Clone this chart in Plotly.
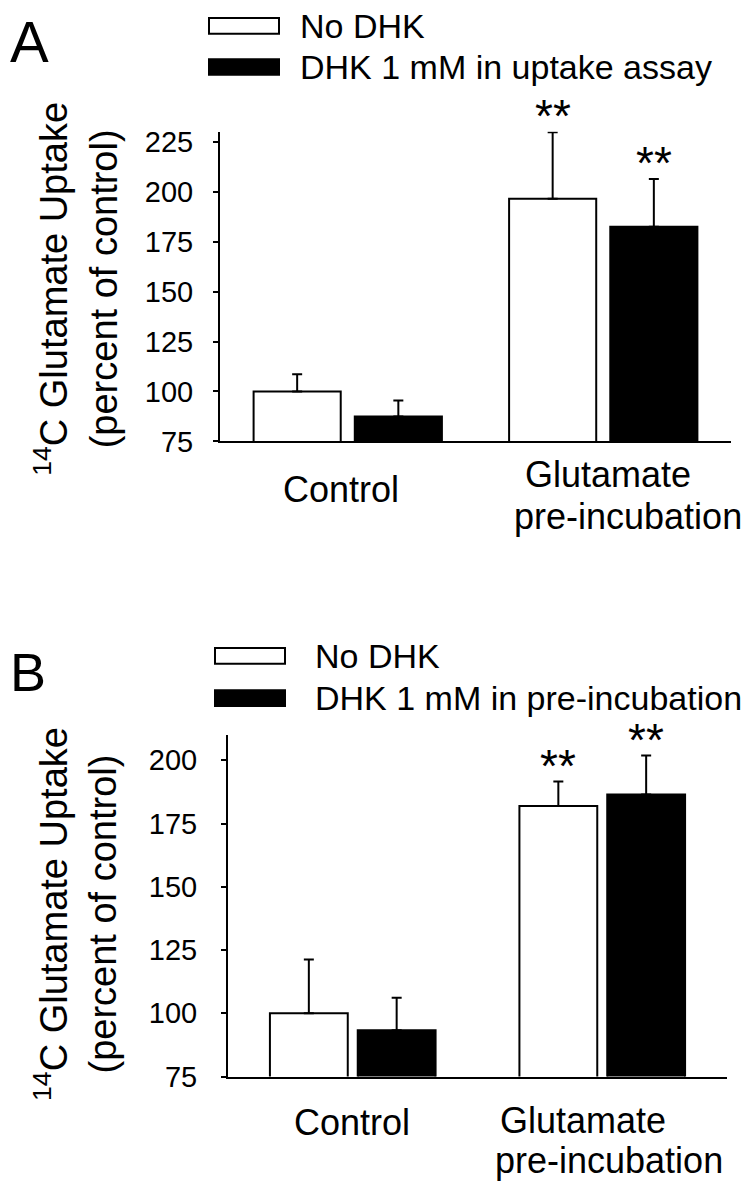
import plotly.graph_objects as go

# --- data ---
categories = ["Control", "Glutamate pre-incubation"]
category_lines = [["Control"], ["Glutamate", "pre-incubation"]]

a_series = ["No DHK", "DHK 1 mM in uptake assay"]
a_no_dhk = [100, 196.5]
a_no_dhk_err = [8.6, 33.3]
a_dhk = [87.5, 182.5]
a_dhk_err = [8.0, 23.8]
a_stars_no_dhk = ["", "**"]
a_stars_dhk = ["", "**"]
a_ticks = [75, 100, 125, 150, 175, 200, 225]

b_series = ["No DHK", "DHK 1 mM in pre-incubation"]
b_no_dhk = [100, 182]
b_no_dhk_err = [21.3, 9.6]
b_dhk = [93.3, 186.5]
b_dhk_err = [12.9, 15.4]
b_stars_no_dhk = ["", "**"]
b_stars_dhk = ["", "**"]
b_ticks = [75, 100, 125, 150, 175, 200]

# the page body keeps its default 8px margin, so the figure is shrunk by it
PAGE_W, PAGE_H, BODY = 756, 1199, 8
W, H = PAGE_W - 2 * BODY, PAGE_H - 2 * BODY
FONT = "Liberation Sans, Arial, sans-serif"


def px(x):
    return (x - BODY) / W


def py(y):
    return 1 - (y - BODY) / H


fig = go.Figure()

panels = [
    dict(letter="A", xa="x", ya="y", series=a_series,
         vals=[a_no_dhk, a_dhk], errs=[a_no_dhk_err, a_dhk_err],
         stars=[a_stars_no_dhk, a_stars_dhk], ticks=a_ticks,
         yrange=[75, 230], xdom=[px(220), px(731)], ydom=[py(443.5), py(128)],
         w=0.341, gap=0.055, standoff=14,
         letter_y=36, letter_size=58, legend_y=[20, 62], box_x=[209, 279],
         text_x=298, title_y=288,
         lab_shift=[[(-7, -48)], [(5, -33), (25, -75)]]),
    dict(letter="B", xa="x2", ya="y2", series=b_series,
         vals=[b_no_dhk, b_dhk], errs=[b_no_dhk_err, b_dhk_err],
         stars=[b_stars_no_dhk, b_stars_dhk], ticks=b_ticks,
         yrange=[75, 210], xdom=[px(228), px(727)], ydom=[py(1090.7), py(742.7)],
         w=0.312, gap=0.04, standoff=18,
         letter_y=678, letter_size=54, legend_y=[662, 705], box_x=[215, 285],
         text_x=313, title_y=925,
         lab_shift=[[(-1, -46)], [(-19, -44), (7, -84)]]),
]

fills = ["white", "black"]
xs = list(range(len(categories)))

for p in panels:
    w, gap = p["w"], p["gap"]
    offsets = [-(gap / 2 + w), gap / 2]
    for k in range(2):
        fig.add_trace(go.Bar(
            x=xs, y=p["vals"][k], name=p["series"][k],
            width=w, offset=offsets[k],
            marker=dict(color=fills[k], line=dict(color="black", width=2)),
            error_y=dict(type="data", symmetric=False, array=p["errs"][k],
                         arrayminus=[0] * len(xs), color="black",
                         thickness=2, width=5),
            xaxis=p["xa"], yaxis=p["ya"], showlegend=False,
        ))
        # significance stars above the error bars
        for i in xs:
            if p["stars"][k][i]:
                fig.add_annotation(
                    x=i + offsets[k] + w / 2, y=p["vals"][k][i] + p["errs"][k][i],
                    xref=p["xa"], yref=p["ya"], text=p["stars"][k][i],
                    showarrow=False, yanchor="bottom", yshift=-12,
                    font=dict(size=46, color="black", family=FONT))

    # category labels under the axis
    for i, lines in enumerate(category_lines):
        for line, (dx, dy) in zip(lines, p["lab_shift"][i]):
            fig.add_annotation(
                x=i, y=0, xref=p["xa"], yref=p["ya"] + " domain", text=line,
                showarrow=False, yanchor="middle", xshift=dx, yshift=dy,
                font=dict(size=36, color="black", family=FONT))

    # y-axis title
    fig.add_annotation(
        x=px(76), y=py(p["title_y"]), xref="paper", yref="paper",
        text="<sup>14</sup>C Glutamate Uptake<br>(percent of control)",
        textangle=-90, showarrow=False, xanchor="center", yanchor="middle",
        font=dict(size=38, color="black", family=FONT))

    # panel letter
    fig.add_annotation(
        x=px(8), y=py(p["letter_y"]), xref="paper", yref="paper",
        text=p["letter"], showarrow=False, xanchor="left", yanchor="middle",
        font=dict(size=p["letter_size"], color="black", family=FONT))

    # legend swatches and labels
    for k in range(2):
        yc = p["legend_y"][k]
        fig.add_shape(type="rect", xref="paper", yref="paper",
                      x0=px(p["box_x"][0]), x1=px(p["box_x"][1]),
                      y0=py(yc + 8), y1=py(yc - 8),
                      line=dict(color="black", width=2), fillcolor=fills[k])
        fig.add_annotation(
            x=px(p["text_x"]), y=py(yc), xref="paper", yref="paper",
            text=p["series"][k], showarrow=False, xanchor="left", yanchor="middle",
            font=dict(size=34, color="black", family=FONT))

axis_common = dict(showgrid=False, zeroline=False, showline=True,
                   linecolor="black", linewidth=2)

for p in panels:
    xkey = "xaxis" if p["xa"] == "x" else "xaxis2"
    ykey = "yaxis" if p["ya"] == "y" else "yaxis2"
    fig.update_layout({
        xkey: dict(domain=p["xdom"], range=[-0.5, 1.5], anchor=p["ya"],
                   showticklabels=False, ticks="", fixedrange=True, **axis_common),
        ykey: dict(domain=p["ydom"], range=p["yrange"], anchor=p["xa"],
                   tickmode="array", tickvals=p["ticks"], ticks="outside",
                   ticklen=5, tickwidth=2, tickcolor="black",
                   ticklabelstandoff=p["standoff"],
                   tickfont=dict(size=29, color="black", family=FONT),
                   fixedrange=True, **axis_common),
    })

fig.update_layout(
    width=W, height=H, autosize=False,
    margin=dict(l=0, r=0, t=0, b=0),
    paper_bgcolor="white", plot_bgcolor="white",
    barmode="overlay", showlegend=False,
    font=dict(family=FONT, color="black"),
)

fig.write_html("out.html")
